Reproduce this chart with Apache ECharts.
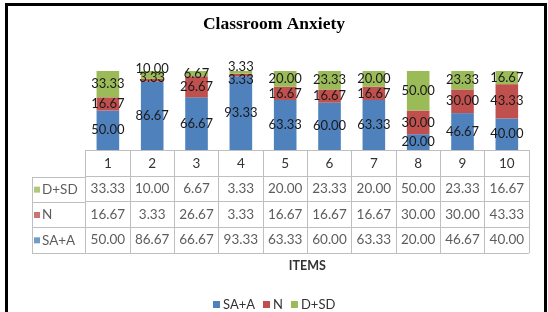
<!DOCTYPE html>
<html>
<head>
<meta charset="utf-8">
<script src="https://cdn.jsdelivr.net/npm/echarts@6/dist/echarts.min.js"></script>
<style>
  html, body { margin: 0; background: #fff; overflow: hidden; }
  /* thick black frame round the chart, bottom edge falls outside the window */
  #frame { position: absolute; left: 5px; top: 3px; right: 1px; bottom: -20px; border: 3px solid #000; }
  #chart { position: absolute; left: 0; top: 0; width: 548px; height: 312px; }
</style>
</head>
<body>
<div id="frame"></div>
<div id="chart"></div>
<script>
// data
var items = ['1', '2', '3', '4', '5', '6', '7', '8', '9', '10'];
var saA = [50.00, 86.67, 66.67, 93.33, 63.33, 60.00, 63.33, 20.00, 46.67, 40.00];
var nVals = [16.67, 3.33, 26.67, 3.33, 16.67, 16.67, 16.67, 30.00, 30.00, 43.33];
var dSd = [33.33, 10.00, 6.67, 3.33, 20.00, 23.33, 20.00, 50.00, 23.33, 16.67];
var seriesNames = ['SA+A', 'N', 'D+SD'];

var colors = ['#4F81BD', '#C0504D', '#9BBB59'];
var font = 'Lato';
var gridLine = { show: true, lineStyle: { color: '#BFBFBF', width: 1 } };

var chart = echarts.init(document.getElementById('chart'));

var seriesVals = [saA, nVals, dSd];
// table rows top to bottom: D+SD, N, SA+A (row 0 is the header)
var tableRow = [3, 2, 1];

var barSeries = seriesVals.map(function (vals, k) {
  return {
    name: seriesNames[k],
    type: 'bar',
    stack: 'total',
    xAxisIndex: 0,
    yAxisIndex: 0,
    barWidth: '51%',
    itemStyle: { color: colors[k] },
    label: {
      show: true,
      position: 'inside',
      color: '#1a1a1a',
      fontFamily: font,
      fontSize: 13,
      formatter: function (p) { return p.value.toFixed(2); }
    },
    // thin stacked segments: nudge labels apart like the original
    labelLayout: function (p) {
      var i = p.dataIndex;
      if (k === 2 && nVals[i] < 5) return { dy: -6 };
      if (k === 1 && nVals[i] < 5) return { dy: dSd[i] < 5 ? 5 : -2 };
      return {};
    },
    data: vals
  };
});

var cellSeries = seriesVals.map(function (vals, k) {
  return {
    name: 'table ' + seriesNames[k],
    type: 'scatter',
    xAxisIndex: 1,
    yAxisIndex: 1,
    symbolSize: 0,
    silent: true,
    label: {
      show: true,
      position: 'inside',
      color: '#333',
      fontFamily: font,
      fontSize: 13.5,
      formatter: function (p) { return p.value[2].toFixed(2); }
    },
    data: vals.map(function (v, i) { return [i, tableRow[k] + 0.5, v]; })
  };
});

var rich = {};
colors.forEach(function (c, k) {
  rich['s' + k] = { width: 6, height: 6, backgroundColor: c };
});
rich.t = { color: '#333', fontFamily: font, fontSize: 13.5, padding: [0, 0, 0, 2] };

var rowHeadSeries = {
  name: 'row heads',
  type: 'scatter',
  xAxisIndex: 2,
  yAxisIndex: 2,
  symbolSize: 0,
  silent: true,
  label: {
    show: true,
    position: 'right',
    distance: 2,
    formatter: function (p) { return '{s' + p.value[2] + '|}{t|' + seriesNames[p.value[2]] + '}'; },
    rich: rich
  },
  data: seriesNames.map(function (n, k) { return [0, tableRow[k] - 1 + 0.5, k]; })
};

var option = {
  animation: false,
  title: {
    text: 'Classroom Anxiety',
    left: 'center',
    top: 15,
    padding: 0,
    textStyle: { fontFamily: 'Liberation Serif', fontWeight: 'bold', fontSize: 17.5, color: '#000' }
  },
  legend: {
    data: seriesNames,
    left: 213,
    top: 298,
    padding: 0,
    icon: 'rect',
    itemWidth: 7,
    itemHeight: 7,
    itemGap: 8,
    textStyle: { fontFamily: font, fontSize: 13, color: '#333', padding: [0, 0, 0, -2] }
  },
  grid: [
    { left: 85.7, right: 19, top: 71, bottom: 162 },   // bars
    { left: 85.7, right: 19, top: 150, bottom: 59 },   // data table
    { left: 32, right: 462.3, top: 177, bottom: 59 }   // row headers
  ],
  xAxis: [
    {
      type: 'category', gridIndex: 0, data: items,
      axisLine: { show: false }, axisTick: { show: false },
      axisLabel: { margin: 7, color: '#333', fontFamily: font, fontSize: 13.5 }
    },
    {
      type: 'category', gridIndex: 1, data: items,
      axisLine: { show: false }, axisTick: { show: false }, axisLabel: { show: false },
      splitLine: gridLine,
      name: 'ITEMS', nameLocation: 'middle', nameGap: 6,
      nameTextStyle: { fontFamily: font, fontWeight: 'bold', fontSize: 12.5, color: '#333' }
    },
    {
      type: 'value', gridIndex: 2, min: 0, max: 1, interval: 1,
      axisLine: { show: false }, axisTick: { show: false }, axisLabel: { show: false },
      splitLine: gridLine
    }
  ],
  yAxis: [
    { type: 'value', gridIndex: 0, min: 0, max: 100, show: false },
    {
      type: 'value', gridIndex: 1, min: 0, max: 4, interval: 1, inverse: true,
      axisLine: { show: false }, axisTick: { show: false }, axisLabel: { show: false },
      splitLine: gridLine
    },
    {
      type: 'value', gridIndex: 2, min: 0, max: 3, interval: 1, inverse: true,
      axisLine: { show: false }, axisTick: { show: false }, axisLabel: { show: false },
      splitLine: gridLine
    }
  ],
  series: barSeries.concat(cellSeries, [rowHeadSeries])
};

chart.setOption(option);
</script>
</body>
</html>
